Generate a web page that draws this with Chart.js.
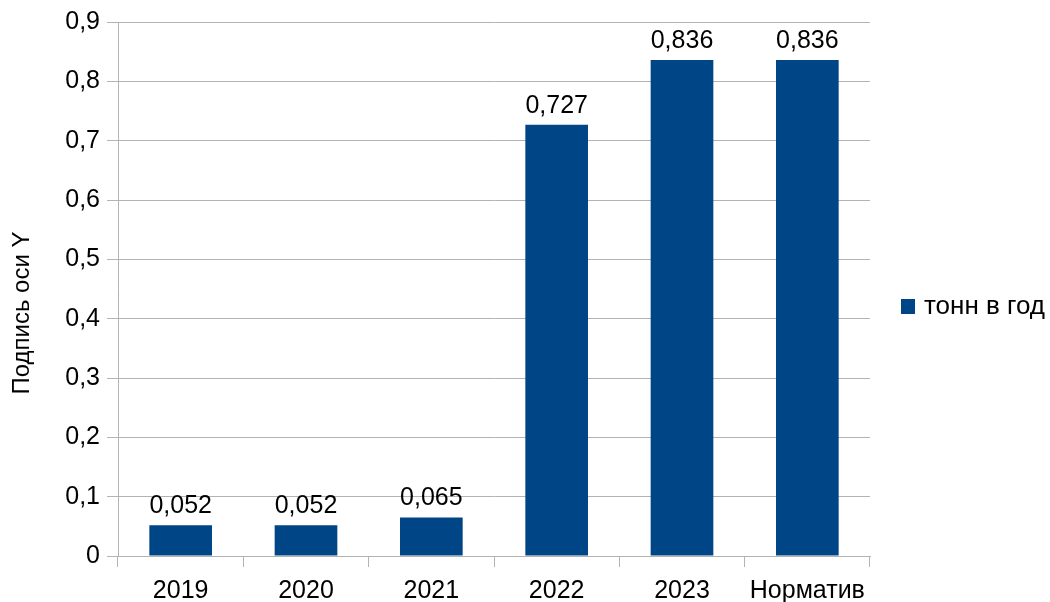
<!DOCTYPE html>
<html>
<head>
<meta charset="utf-8">
<script src="https://cdn.jsdelivr.net/npm/chart.js@4/dist/chart.umd.min.js"></script>
<style>
  html, body { margin:0; padding:0; background:#fff; }
  #wrap { width:1050px; height:602px; }
</style>
</head>
<body>
<div id="wrap"><canvas id="chart" width="1050" height="602"></canvas></div>
<script>
// --- Данные ---
const categories = ['2019', '2020', '2021', '2022', '2023', 'Норматив'];
const tonnPerYear = [0.052, 0.052, 0.065, 0.727, 0.836, 0.836];
const seriesName = 'тонн в год';
const yTitle = 'Подпись оси Y';

const FONT = '"Liberation Sans", Arial, sans-serif';
const FSIZE = 25;
const BAR = '#004586';
const GRID = '#b3b3b3';

// --- формат с запятой ---
function fmt(v) {
  return String(v).replace('.', ',');
}

// подписи значений над столбцами
const valueLabels = {
  id: 'valueLabels',
  afterDatasetsDraw(chart) {
    const ctx = chart.ctx;
    const meta = chart.getDatasetMeta(0);
    ctx.save();
    ctx.font = FSIZE + 'px ' + FONT;
    ctx.fillStyle = '#000';
    ctx.textAlign = 'center';
    ctx.textBaseline = 'alphabetic';
    meta.data.forEach((bar, i) => {
      ctx.fillText(fmt(tonnPerYear[i]), bar.x, bar.y - 12);
    });
    ctx.restore();
  }
};

// легенда справа и подпись оси Y
const extras = {
  id: 'extras',
  afterDraw(chart) {
    const ctx = chart.ctx;
    const y = 306;
    ctx.save();
    ctx.fillStyle = BAR;
    ctx.fillRect(901, y - 7, 14, 15);
    ctx.font = '26px ' + FONT;
    ctx.fillStyle = '#000';
    ctx.textAlign = 'left';
    ctx.textBaseline = 'middle';
    ctx.fillText(chart.data.datasets[0].label, 924, y + 1);

    ctx.translate(22, 313);
    ctx.rotate(-Math.PI / 2);
    ctx.font = '24px ' + FONT;
    ctx.textAlign = 'center';
    ctx.fillText(yTitle, 0, 0);
    ctx.restore();
  }
};

new Chart(document.getElementById('chart').getContext('2d'), {
  type: 'bar',
  data: {
    labels: categories,
    datasets: [{
      label: seriesName,
      data: tonnPerYear,
      backgroundColor: BAR,
      borderWidth: 0,
      barPercentage: 0.5,
      categoryPercentage: 1
    }]
  },
  options: {
    responsive: false,
    animation: false,
    layout: { padding: { top: 22, right: 180, left: 0, bottom: 0 } },
    plugins: { legend: { display: false }, tooltip: { enabled: false } },
    scales: {
      x: {
        afterFit: s => { s.height = 46; },
        border: { color: GRID, width: 1 },
        grid: { offset: true, drawOnChartArea: false, color: GRID, tickLength: 11 },
        ticks: { color: '#000', font: { family: FONT, size: FSIZE }, padding: 9, maxRotation: 0 }
      },
      y: {
        min: 0,
        max: 0.9,
        afterFit: s => { s.width = 118; },
        border: { color: GRID, width: 1 },
        grid: { color: GRID, tickLength: 11 },
        ticks: {
          stepSize: 0.1,
          color: '#000',
          font: { family: FONT, size: FSIZE },
          padding: 7,
          callback: v => fmt(Math.round(v * 10) / 10)
        }
      }
    }
  },
  plugins: [valueLabels, extras]
});
</script>
</body>
</html>
